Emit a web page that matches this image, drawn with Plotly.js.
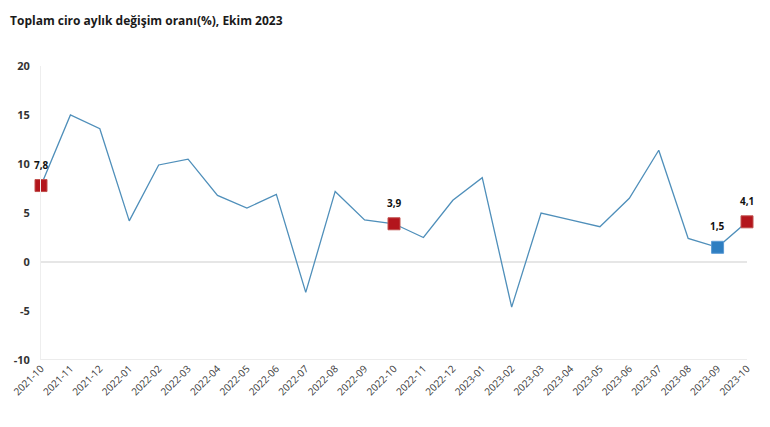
<!DOCTYPE html>
<html>
<head>
<meta charset="utf-8">
<script src="https://cdn.plot.ly/plotly-3.0.1.min.js"></script>
<style>html,body{margin:0;padding:0;background:#fff;}#chart{width:770px;height:427px;}</style>
</head>
<body>
<div id="chart"></div>
<script>
const months = ["2021-10","2021-11","2021-12","2022-01","2022-02","2022-03","2022-04","2022-05","2022-06","2022-07","2022-08","2022-09","2022-10","2022-11","2022-12","2023-01","2023-02","2023-03","2023-04","2023-05","2023-06","2023-07","2023-08","2023-09","2023-10"];
const values = [7.8,15.0,13.6,4.2,9.9,10.5,6.8,5.5,6.9,-3.1,7.2,4.3,3.9,2.5,6.3,8.6,-4.6,5.0,4.3,3.6,6.5,11.4,2.4,1.5,4.1];
const redMonths = ["2021-10","2022-10","2023-10"];
const redValues = [7.8,3.9,4.1];
const redLabels = ["7,8","3,9","4,1"];
const blueMonths = ["2023-09"];
const blueValues = [1.5];
const blueLabels = ["1,5"];
const yTicks = [-10,-5,0,5,10,15,20];
const titleText = "Toplam ciro aylık değişim oranı(%), Ekim 2023";

const font = "Open Sans, Liberation Sans, sans-serif";
const traces = [
  {x: months, y: values, type: "scatter", mode: "lines", line: {color: "#4f8fba", width: 1.3}, hoverinfo: "skip"},
  {x: redMonths, y: redValues, type: "scatter", mode: "markers",
   marker: {symbol: "square", size: 12, color: "#b3151c", line: {color: "#c0504d", width: 1}}, cliponaxis: false},
  {x: blueMonths, y: blueValues, type: "scatter", mode: "markers",
   marker: {symbol: "square", size: 12, color: "#2e7ec1", line: {color: "#5b9bd5", width: 1}}, cliponaxis: false}
];
const labelMonths = redMonths.concat(blueMonths);
const labelValues = redValues.concat(blueValues);
const labelTexts = redLabels.concat(blueLabels);
const annotations = labelMonths.map((m, i) => ({
  x: m, y: labelValues[i], xref: "x", yref: "y", text: labelTexts[i], showarrow: false,
  yshift: 21, font: {family: font, size: 10, color: "#111", weight: "bold"}
}));
const layout = {
  width: 770, height: 427,
  margin: {l: 41, r: 23, t: 66, b: 67},
  paper_bgcolor: "#fff", plot_bgcolor: "#fff",
  showlegend: false,
  annotations: annotations,
  title: {text: titleText, x: 0.013, xanchor: "left", y: 0.96, yanchor: "top",
          font: {family: font, size: 12, color: "#1a1a1a", weight: "bold"}},
  xaxis: {type: "category", categoryorder: "array", categoryarray: months, range: [0, 24],
          tickangle: -45, showgrid: false, zeroline: false, showline: false, ticks: "",
          tickfont: {family: font, size: 10, color: "#3a3a3a"}, fixedrange: true},
  yaxis: {range: [-10, 20], tickvals: yTicks, ticktext: yTicks.map(String), showgrid: false,
          zeroline: true, zerolinecolor: "#e6e6e6", zerolinewidth: 1.5,
          showline: true, linecolor: "#eeeeee", linewidth: 1, ticks: "", ticklabelstandoff: 8,
          tickfont: {family: font, size: 11, color: "#333", weight: "bold"}},
  shapes: [{type: "line", xref: "paper", yref: "y", x0: 0, x1: 1, y0: -10, y1: -10, line: {color: "#e6e6e6", width: 1.5}}]
};
Plotly.newPlot("chart", traces, layout, {displayModeBar: false, staticPlot: true});
</script>
</body>
</html>
